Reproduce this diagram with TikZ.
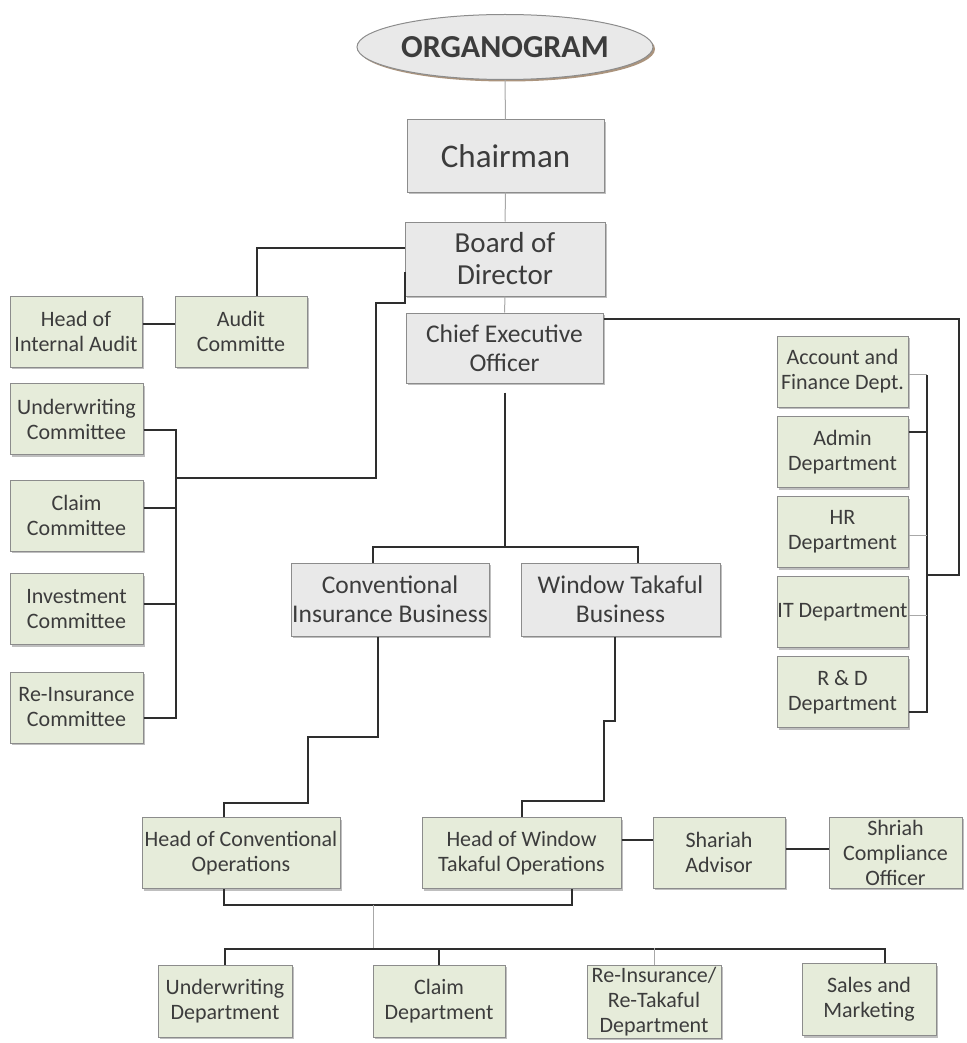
\documentclass[tikz,border=0pt]{standalone}
\usepackage{fontspec}
\setmainfont{Carlito}
\usetikzlibrary{shapes.geometric,shadows}
\definecolor{deptfill}{HTML}{E6ECDA}
\definecolor{officefill}{HTML}{E9E9E9}
\definecolor{edgegrey}{HTML}{8C8C8C}
\definecolor{inkgrey}{HTML}{3C3C3C}
\definecolor{linkdark}{HTML}{2E2E2E}
\definecolor{linkfaint}{HTML}{A8A8A8}

\begin{document}
\begin{tikzpicture}[x=1pt, y=-1pt, thick,
        base/.style = {draw=edgegrey, line width=1pt, align=center, text=inkgrey, inner sep=0pt},
        boxshadow/.style = {drop shadow={shadow xshift=2pt, shadow yshift=-2pt, fill=black, opacity=0.25}},
        dept/.style = {base, boxshadow, fill=deptfill, minimum height=71pt, font=\fontsize{22}{25}\selectfont},
        office/.style = {base, boxshadow, fill=officefill, font=\fontsize{25.5}{29}\selectfont},
        link/.style = {draw=linkdark, line width=2pt},
        faint/.style = {draw=linkfaint, line width=1pt}]
        \useasboundingbox (0,0) rectangle (966,1043);

        \node[base, ellipse, fill=officefill, minimum width=296pt, minimum height=65pt, font=\bfseries\fontsize{32}{36}\selectfont, drop shadow={shadow xshift=2pt, shadow yshift=-2pt, fill=brown!60!black, opacity=0.6}] (0) at (505,47) {ORGANOGRAM};
        \node[office, minimum width=197pt, minimum height=72pt, font=\fontsize{33}{36}\selectfont] (1) at (505.5,156) {Chairman};
        \node[office, minimum width=200pt, minimum height=74pt, font=\fontsize{29}{32}\selectfont] (2) at (505,259) {Board of\\Director};
        \node[office, minimum width=197pt, minimum height=70pt] (3) at (504.5,348) {Chief Executive\\Officer};

        \node[dept, minimum width=132pt] (4) at (241,331.5) {Audit\\Committe};
        \node[dept, minimum width=132pt] (5) at (76,331.5) {Head of\\Internal Audit};
        \node[dept, minimum width=133pt] (6) at (76.5,419) {Underwriting\\Committee};
        \node[dept, minimum width=133pt] (7) at (76.5,515.5) {Claim\\Committee};
        \node[dept, minimum width=133pt] (8) at (76.5,609) {Investment\\Committee};
        \node[dept, minimum width=133pt] (9) at (76.5,707.5) {Re-Insurance\\Committee};

        \node[dept, minimum width=131pt] (10) at (842.5,371.5) {Account and\\Finance Dept.};
        \node[dept, minimum width=131pt] (11) at (842.5,452) {Admin\\Department};
        \node[dept, minimum width=131pt] (12) at (842.5,532) {HR\\Department};
        \node[dept, minimum width=131pt] (13) at (842.5,612) {IT Department};
        \node[dept, minimum width=131pt] (14) at (842.5,692) {R \& D\\Department};

        \node[office, minimum width=198pt, minimum height=73pt] (15) at (390,599.5) {Conventional\\Insurance Business};
        \node[office, minimum width=199pt, minimum height=73pt] (16) at (620.5,599.5) {Window Takaful\\Business};

        \node[dept, minimum width=198pt] (17) at (241,853) {Head of Conventional\\Operations};
        \node[dept, minimum width=199pt] (18) at (521.5,853) {Head of Window\\Takaful Operations};
        \node[dept, minimum width=132pt] (19) at (719,852.5) {Shariah\\Advisor};
        \node[dept, minimum width=133pt] (20) at (895.5,852.5) {Shriah\\Compliance\\Officer};

        \node[dept, minimum width=134pt, minimum height=72pt] (21) at (225,1001) {Underwriting\\Department};
        \node[dept, minimum width=132pt, minimum height=72pt] (22) at (439,1001) {Claim\\Department};
        \node[dept, minimum width=134pt, minimum height=73pt] (23) at (654,1001.5) {Re-Insurance/\\Re-Takaful\\Department};
        \node[dept, minimum width=134pt, minimum height=72pt] (24) at (869,999.5) {Sales and\\Marketing};

        \coordinate (c1) at (176,478);
        \coordinate (c2) at (926,575);
        \coordinate (c3) at (504.5,547);
        \coordinate (c4) at (373,904.5);
        \coordinate (c5) at (373,949);

        \draw[faint] (0) -- (1);
        \draw[faint] (1) -- (2);
        \draw[faint] (2) -- (3);

        \draw[link] ([xshift=16pt]4.north) |- ([yshift=11pt]2.west);
        \draw[link] ([yshift=8pt]5.east) -- ([yshift=8pt]4.west);
        \draw[link] ([yshift=-13pt]2.west) -- ([yshift=-6pt]2.south west) -- ++(-29,0) |- (c1);
        \draw[link] ([yshift=-11pt]6.east) -| (c1);
        \draw[link] ([yshift=-10pt]9.east) -| (c1);
        \draw[link] ([yshift=8pt]7.east) -- ++(33,0);
        \draw[link] ([yshift=5pt]8.east) -- ++(33,0);

        \draw[link] ([yshift=29pt]3.east) -- ++(355,0) |- (c2);
        \draw[link] ([yshift=-20pt]14.east) -| ([xshift=18pt,yshift=-3pt]10.east);
        \draw[faint] ([yshift=-3pt]10.east) -- ++(18,0);
        \draw[link] ([yshift=20pt]11.east) -- ++(18,0);
        \draw[faint] ([yshift=-3pt]12.east) -- ++(18,0);
        \draw[faint] ([yshift=-3pt]13.east) -- ++(18,0);

        \draw[link] ([yshift=-9pt]3.south) -- (c3);
        \draw[link] ([xshift=-17pt]15.north) |- (c3);
        \draw[link] ([xshift=17pt]16.north) |- (c3);

        \draw[link] ([xshift=-12pt]15.south) -- ++(0,100) -- ++(-70,0) -- ++(0,66) -| ([xshift=-17pt]17.north);
        \draw[link] ([xshift=-6pt]16.south) -- ++(0,84) -- ++(-11,0) -- ++(0,80) -| (18.north);
        \draw[link] ([yshift=13pt]18.east) -- ([yshift=12.5pt]19.west);
        \draw[link] ([yshift=4pt]19.east) -- ([yshift=4pt]20.west);

        \draw[link] ([xshift=-17pt]17.south) -- ++(0,16) -| ([xshift=50pt]18.south);
        \draw[faint] (c4) -- (c5);
        \draw[link] (21.north) -- ++(0,-16) -| ([xshift=16pt]24.north);
        \draw[link] (22.north) -- ++(0,-16);
        \draw[faint] (23.north) -- ++(0,-16.5);

    \end{tikzpicture}
\end{document}
